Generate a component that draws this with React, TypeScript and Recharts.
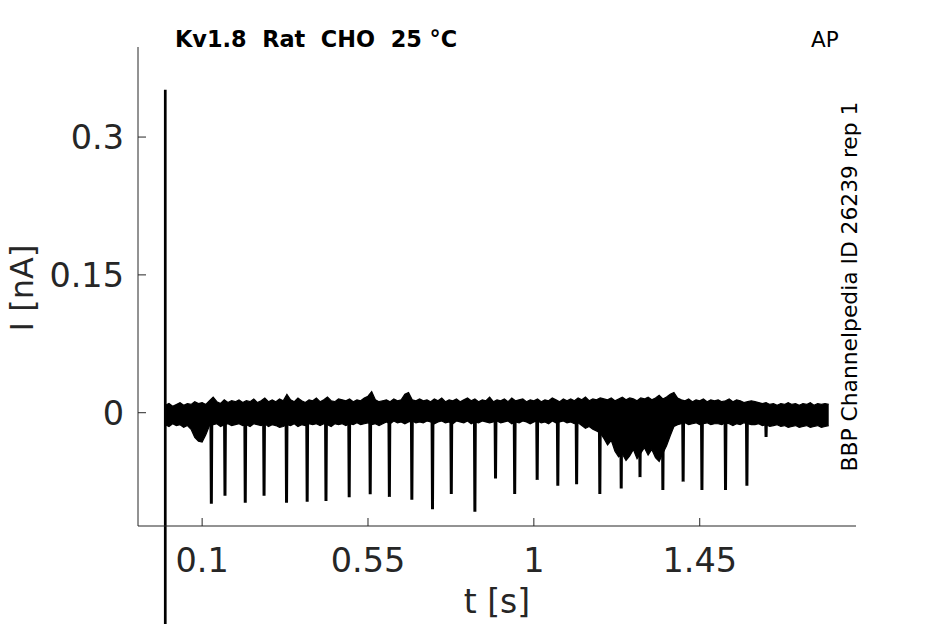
import React from 'react';
import { ComposedChart, Area, Line, XAxis, YAxis, ReferenceLine } from 'recharts';

// sample times of the noise envelope (ms)
const timeMs = [
  0, 10, 20, 30, 40, 50, 60, 70, 80, 90,
  100, 110, 120, 130, 140, 150, 160, 170, 180, 190,
  200, 210, 220, 230, 240, 250, 260, 270, 280, 290,
  300, 310, 320, 330, 340, 350, 360, 370, 380, 390,
  400, 410, 420, 430, 440, 450, 460, 470, 480, 490,
  500, 510, 520, 530, 540, 550, 560, 570, 580, 590,
  600, 610, 620, 630, 640, 650, 660, 670, 680, 690,
  700, 710, 720, 730, 740, 750, 760, 770, 780, 790,
  800, 810, 820, 830, 840, 850, 860, 870, 880, 890,
  900, 910, 920, 930, 940, 950, 960, 970, 980, 990,
  1000, 1010, 1020, 1030, 1040, 1050, 1060, 1070, 1080, 1090,
  1100, 1110, 1120, 1130, 1140, 1150, 1160, 1170, 1180, 1190,
  1200, 1210, 1220, 1230, 1240, 1250, 1260, 1270, 1280, 1290,
  1300, 1310, 1320, 1330, 1340, 1350, 1360, 1370, 1380, 1390,
  1400, 1410, 1420, 1430, 1440, 1450, 1460, 1470, 1480, 1490,
  1500, 1510, 1520, 1530, 1540, 1550, 1560, 1570, 1580, 1590,
  1600, 1610, 1620, 1630, 1640, 1650, 1660, 1670, 1680, 1690,
  1700, 1710, 1720, 1730, 1740, 1750, 1760, 1770, 1780, 1790,
  1800,
];

// upper edge of the overlaid sweeps (pA)
const upperPA = [
  8, 10, 7, 9, 11, 8, 10, 9, 12, 10,
  11, 9, 13, 17, 12, 10, 14, 11, 13, 12,
  14, 11, 13, 12, 15, 11, 13, 16, 12, 14,
  12, 15, 13, 20, 14, 12, 16, 13, 11, 14,
  13, 16, 12, 14, 17, 13, 12, 15, 14, 13,
  15, 12, 14, 13, 16, 18, 23, 14, 12, 13,
  14, 12, 15, 13, 14, 20, 22, 14, 13, 15,
  13, 14, 12, 15, 13, 16, 12, 14, 13, 15,
  12, 14, 16, 13, 15, 12, 14, 13, 17, 12,
  14, 13, 15, 12, 16, 13, 14, 15, 12, 14,
  13, 15, 12, 14, 13, 16, 14, 12, 15, 13,
  15, 13, 16, 14, 17, 13, 15, 14, 16, 15,
  14, 16, 13, 15, 17, 14, 16, 15, 13, 16,
  15, 17, 14, 16, 19, 15, 17, 20, 22, 16,
  14, 13, 15, 12, 14, 13, 15, 12, 14, 13,
  14, 12, 13, 15, 12, 14, 13, 11, 12, 13,
  12, 11, 10, 11, 9, 10, 8, 10, 9, 11,
  9, 10, 8, 10, 9, 11, 8, 10, 9, 10,
  9,
];

// lower edge of the overlaid sweeps (pA)
const lowerPA = [
  -13, -15, -12, -14, -13, -16, -14, -18, -27, -31,
  -32, -24, -14, -13, -12, -15, -13, -12, -14, -13,
  -12, -14, -13, -15, -12, -13, -14, -12, -15, -13,
  -14, -16, -15, -13, -14, -12, -15, -13, -14, -12,
  -13, -12, -14, -12, -13, -15, -12, -13, -12, -14,
  -12, -13, -11, -13, -12, -11, -13, -12, -14, -12,
  -10, -12, -9, -11, -10, -12, -10, -9, -11, -10,
  -11, -9, -10, -12, -10, -9, -11, -10, -12, -9,
  -10, -11, -9, -12, -10, -11, -9, -10, -11, -10,
  -9, -11, -10, -9, -12, -10, -11, -9, -10, -12,
  -10, -9, -11, -10, -12, -9, -11, -10, -9, -11,
  -10, -12, -11, -14, -17, -15, -18, -20, -22, -28,
  -35, -30, -42, -48, -45, -52, -47, -40, -50, -44,
  -38, -46, -40, -49, -53, -44, -36, -25, -15, -13,
  -12, -11, -13, -12, -11, -13, -12, -11, -13, -12,
  -12, -13, -11, -12, -14, -12, -13, -11, -12, -13,
  -13, -12, -14, -13, -15, -14, -13, -15, -14, -16,
  -15, -14, -16, -15, -14, -16, -15, -14, -16, -15,
  -14,
];

// action-potential-evoked current spikes
const spikeTimes = [
  0.125, 0.162, 0.217, 0.268, 0.329, 0.385, 0.436, 0.499, 0.556, 0.608,
  0.669, 0.725, 0.776, 0.84, 0.896, 0.948, 1.009, 1.065, 1.116, 1.179,
  1.237, 1.288, 1.35, 1.405, 1.456, 1.52, 1.578, 1.63,
];
const spikeDepths = [
  -0.099, -0.0905, -0.098, -0.0905, -0.098, -0.097, -0.096, -0.092, -0.0887, -0.0916,
  -0.0946, -0.105, -0.0884, -0.1077, -0.0717, -0.0884, -0.0731, -0.0796, -0.0778, -0.0884,
  -0.0826, -0.0701, -0.084, -0.075, -0.084, -0.084, -0.0796, -0.0265,
];

const stimulusTime = [0, 0];
const stimulusCurrent = [-0.3, 0.3514];

const xTicks = [0.1, 0.55, 1, 1.45];
const yTicks = [0, 0.15, 0.3];
const xDomain = [-0.074, 1.874];
const yDomain = [-0.1233, 0.398];

const titleText = 'Kv1.8  Rat  CHO  25 °C';
const protocolText = 'AP';
const sourceText = 'BBP Channelpedia ID 26239 rep 1';
const xLabel = 't [s]';
const yLabel = 'I [nA]';

const bandData = timeMs.map((ms, i) => ({
  t: ms / 1000,
  band: [lowerPA[i] / 1000, upperPA[i] / 1000],
}));

const spikeData = spikeTimes.flatMap((t, i) => [
  { t: t - 0.0012, v: -0.004 },
  { t, v: spikeDepths[i] },
  { t: t + 0.0012, v: -0.004 },
]);

const FONT = '"DejaVu Sans", sans-serif';
const AXIS = '#262626';

export default function App() {
  return (
    <div style={{ position: 'absolute', left: 0, top: 0, width: 945, height: 624, background: '#fff' }}>
      <ComposedChart
        width={945}
        height={624}
        margin={{ top: 47, right: 89, bottom: 0, left: 0 }}
        style={{ fontFamily: FONT }}
      >
        <XAxis
          type="number"
          dataKey="t"
          domain={xDomain}
          ticks={xTicks}
          interval={0}
          allowDataOverflow
          height={98}
          tickSize={-8}
          tickMargin={30}
          axisLine={{ stroke: AXIS, strokeWidth: 1 }}
          tickLine={{ stroke: AXIS, strokeWidth: 1 }}
          tick={{ fill: AXIS, fontSize: 33.5, fontFamily: FONT }}
        />
        <YAxis
          type="number"
          domain={yDomain}
          ticks={yTicks}
          interval={0}
          allowDataOverflow
          width={138}
          tickSize={-8}
          tickMargin={22}
          axisLine={{ stroke: AXIS, strokeWidth: 1 }}
          tickLine={{ stroke: AXIS, strokeWidth: 1 }}
          tick={{ fill: AXIS, fontSize: 33.5, fontFamily: FONT }}
        />
        <Area
          data={bandData}
          dataKey="band"
          type="linear"
          stroke="#000"
          strokeWidth={1.2}
          fill="#000"
          fillOpacity={1}
          dot={false}
          activeDot={false}
          isAnimationActive={false}
        />
        <Line
          data={spikeData}
          dataKey="v"
          type="linear"
          stroke="#000"
          strokeWidth={3}
          dot={false}
          activeDot={false}
          isAnimationActive={false}
        />
        <ReferenceLine
          segment={[
            { x: stimulusTime[0], y: stimulusCurrent[0] },
            { x: stimulusTime[1], y: stimulusCurrent[1] },
          ]}
          ifOverflow="visible"
          stroke="#000"
          strokeWidth={2.7}
        />
      </ComposedChart>
      <svg
        width={945}
        height={624}
        style={{ position: 'absolute', left: 0, top: 0, pointerEvents: 'none', fontFamily: FONT }}
      >
        <text x={175} y={47} fontSize={22.4} fontWeight="bold" fill="#000" style={{ whiteSpace: 'pre' }}>
          {titleText}
        </text>
        <text x={811} y={47} fontSize={21.5} fill="#000">
          {protocolText}
        </text>
        <text
          x={0}
          y={0}
          fontSize={21.8}
          fill="#000"
          textAnchor="middle"
          transform="translate(857 286.5) rotate(-90)"
        >
          {sourceText}
        </text>
        <text x={497} y={613} fontSize={33} fill={AXIS} textAnchor="middle">
          {xLabel}
        </text>
        <text
          x={0}
          y={0}
          fontSize={32}
          fill={AXIS}
          textAnchor="middle"
          transform="translate(33 288) rotate(-90)"
        >
          {yLabel}
        </text>
      </svg>
    </div>
  );
}
